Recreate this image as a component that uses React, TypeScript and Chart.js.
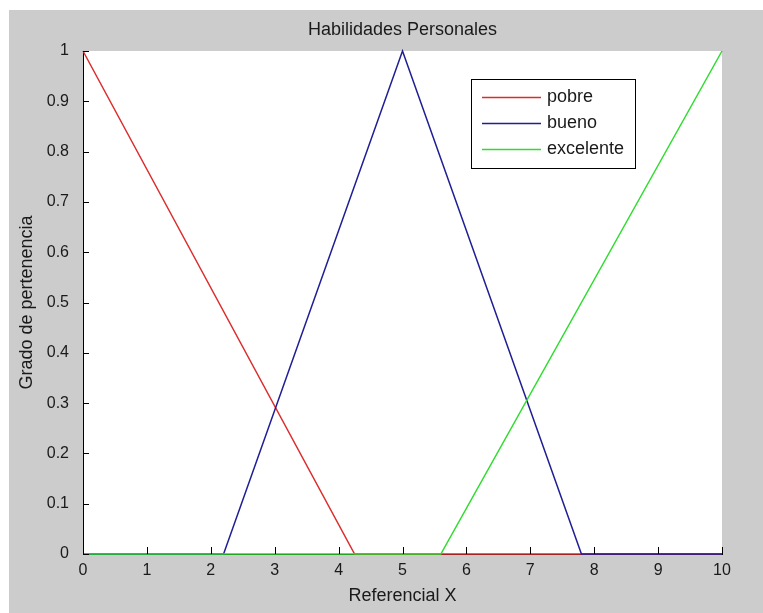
import React, { useEffect, useRef } from 'react';
import { Chart, registerables } from 'chart.js';

Chart.register(...registerables);

// ---- Data ----
const titleText = 'Habilidades Personales';
const xAxisTitle = 'Referencial X';
const yAxisTitle = 'Grado de pertenencia';
const seriesLabels = ['pobre', 'bueno', 'excelente'];

const pobreX = [0, 4.25, 10];
const pobreY = [1, 0, 0];
const buenoX = [0, 2.2, 5, 7.8, 10];
const buenoY = [0, 0, 1, 0, 0];
const excelenteX = [0, 5.6, 10];
const excelenteY = [0, 0, 1];

const xTickValues = [0, 1, 2, 3, 4, 5, 6, 7, 8, 9, 10];
const xTickLabels = ['0', '1', '2', '3', '4', '5', '6', '7', '8', '9', '10'];
const yTickValues = [0, 0.1, 0.2, 0.3, 0.4, 0.5, 0.6, 0.7, 0.8, 0.9, 1];
const yTickLabels = ['0', '0.1', '0.2', '0.3', '0.4', '0.5', '0.6', '0.7', '0.8', '0.9', '1'];

// ---- Styles ----
const FONT = '"Liberation Sans", Arial, Helvetica, sans-serif';
const TEXT = '#1a1a1a';
const RED = '#dd2c2c';
const BLUE = '#1f1f95';
const GREEN = '#2fdc2f';

const toPoints = (xs: number[], ys: number[]) => xs.map((x, i) => ({ x, y: ys[i] }));

const plotBgPlugin = {
  id: 'plotBg',
  beforeDraw(chart: any) {
    const { ctx, chartArea } = chart;
    ctx.save();
    ctx.fillStyle = '#ffffff';
    ctx.fillRect(chartArea.left, chartArea.top, chartArea.right - chartArea.left, chartArea.bottom - chartArea.top);
    ctx.restore();
  },
};

const inwardTicksPlugin = {
  id: 'inwardTicks',
  afterDatasetsDraw(chart: any) {
    const { ctx, chartArea } = chart;
    const xs = chart.scales.x;
    const ys = chart.scales.y;
    ctx.save();
    ctx.strokeStyle = '#000';
    ctx.lineWidth = 1;
    ctx.beginPath();
    xs.ticks.forEach((t: any) => {
      const px = Math.round(xs.getPixelForValue(t.value)) + 0.5;
      ctx.moveTo(px, chartArea.bottom);
      ctx.lineTo(px, chartArea.bottom - 7);
    });
    ys.ticks.forEach((t: any) => {
      const py = Math.round(ys.getPixelForValue(t.value)) + 0.5;
      ctx.moveTo(chartArea.left, py);
      ctx.lineTo(chartArea.left + 6, py);
    });
    ctx.stroke();
    ctx.restore();
  },
};

const legendPlugin = {
  id: 'boxLegend',
  afterDraw(chart: any) {
    const { ctx, chartArea } = chart;
    const items = chart.data.datasets;
    ctx.save();
    ctx.font = `18px ${FONT}`;
    const textW = Math.max(...items.map((d: any) => ctx.measureText(d.label).width));
    const pad = 11;
    const lineLen = 59;
    const gap = 6;
    const rowH = 26;
    const x0 = Math.round(chartArea.left + 388);
    const y0 = Math.round(chartArea.top + 28);
    const w = Math.round(pad + lineLen + gap + textW + pad);
    const h = 89;
    ctx.fillStyle = '#ffffff';
    ctx.fillRect(x0, y0, w, h);
    ctx.strokeStyle = '#000';
    ctx.lineWidth = 1;
    ctx.strokeRect(x0 + 0.5, y0 + 0.5, w, h);
    items.forEach((d: any, i: number) => {
      const y = y0 + 18.5 + i * rowH;
      ctx.strokeStyle = d.borderColor;
      ctx.lineWidth = 1.5;
      ctx.beginPath();
      ctx.moveTo(x0 + pad, y);
      ctx.lineTo(x0 + pad + lineLen, y);
      ctx.stroke();
      ctx.fillStyle = TEXT;
      ctx.textAlign = 'left';
      ctx.textBaseline = 'middle';
      ctx.fillText(d.label, x0 + pad + lineLen + gap, y);
    });
    ctx.restore();
  },
};

export default function App() {
  const canvasRef = useRef<HTMLCanvasElement | null>(null);

  useEffect(() => {
    if (!canvasRef.current) return;
    const tickFont = { family: FONT, size: 16 };
    const labelFont = { family: FONT, size: 18, weight: 'normal' as const };
    const chart = new Chart(canvasRef.current, {
      type: 'line',
      data: {
        datasets: [
          {
            label: seriesLabels[0],
            data: toPoints(pobreX, pobreY),
            borderColor: RED,
            backgroundColor: RED,
            borderWidth: 1.5,
            pointRadius: 0,
            tension: 0,
            order: 3,
            clip: 4,
          },
          {
            label: seriesLabels[1],
            data: toPoints(buenoX, buenoY),
            borderColor: BLUE,
            backgroundColor: BLUE,
            borderWidth: 1.5,
            pointRadius: 0,
            tension: 0,
            order: 2,
            clip: 4,
          },
          {
            label: seriesLabels[2],
            data: toPoints(excelenteX, excelenteY),
            borderColor: GREEN,
            backgroundColor: GREEN,
            borderWidth: 1.5,
            pointRadius: 0,
            tension: 0,
            order: 1,
            clip: 4,
          },
        ],
      },
      options: {
        responsive: false,
        animation: false,
        devicePixelRatio: 1,
        layout: { padding: { top: 0, right: 41, bottom: 0, left: 0 } },
        plugins: {
          legend: { display: false },
          tooltip: { enabled: false },
          title: {
            display: true,
            text: titleText,
            fullSize: false,
            color: TEXT,
            font: labelFont,
            padding: { top: 9, bottom: 10.4 },
          },
        },
        scales: {
          x: {
            type: 'linear',
            min: 0,
            max: 10,
            afterBuildTicks: (s: any) => {
              s.ticks = xTickValues.map((v) => ({ value: v }));
            },
            afterFit: (s: any) => {
              s.height = 59;
            },
            ticks: {
              font: tickFont,
              color: TEXT,
              padding: 7,
              maxRotation: 0,
              autoSkip: false,
              callback: (_v: any, i: number) => xTickLabels[i],
            },
            grid: { display: false, drawTicks: false },
            border: { display: true, color: '#000', width: 1 },
            title: {
              display: true,
              text: xAxisTitle,
              color: TEXT,
              font: labelFont,
              padding: { top: 0, bottom: 6 },
            },
          },
          y: {
            type: 'linear',
            min: 0,
            max: 1,
            afterBuildTicks: (s: any) => {
              s.ticks = yTickValues.map((v) => ({ value: v }));
            },
            afterFit: (s: any) => {
              s.width = 74;
            },
            ticks: {
              font: tickFont,
              color: TEXT,
              padding: 14,
              autoSkip: false,
              callback: (_v: any, i: number) => yTickLabels[i],
            },
            grid: { display: false, drawTicks: false },
            border: { display: true, color: '#000', width: 1 },
            title: {
              display: true,
              text: yAxisTitle,
              color: TEXT,
              font: labelFont,
              padding: { top: 7, bottom: 0 },
            },
          },
        },
      } as any,
      plugins: [plotBgPlugin, inwardTicksPlugin, legendPlugin],
    });
    return () => chart.destroy();
  }, []);

  return (
    <div
      style={{
        position: 'absolute',
        left: 0,
        top: 0,
        width: 763,
        height: 613,
        background: '#ffffff',
        overflow: 'hidden',
      }}
    >
      <div
        style={{
          position: 'absolute',
          left: 9,
          top: 10,
          width: 754,
          height: 603,
          background: '#cccccc',
        }}
      >
        <canvas
          ref={canvasRef}
          width={754}
          height={603}
          style={{ display: 'block', width: 754, height: 603 }}
        />
      </div>
    </div>
  );
}
